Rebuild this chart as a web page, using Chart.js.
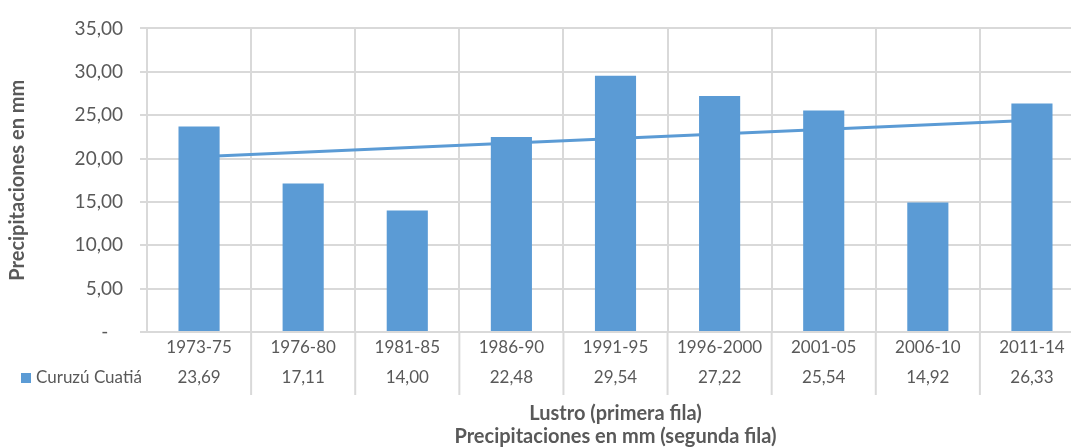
<!DOCTYPE html>
<html>
<head>
<meta charset="utf-8">
<script src="https://cdn.jsdelivr.net/npm/chart.js@4"></script>
<style>
  html, body { margin: 0; padding: 0; background: #fff; overflow: hidden; }
</style>
</head>
<body>
<canvas id="chart-precip" width="1090" height="448"></canvas>
<script>
// data
const lustros = ['1973-75', '1976-80', '1981-85', '1986-90', '1991-95', '1996-2000', '2001-05', '2006-10', '2011-14'];
const precipCuruzu = [23.69, 17.11, 14.00, 22.48, 29.54, 27.22, 25.54, 14.92, 26.33];
// linear trend line, ends
const trendCuruzu = [20.2, null, null, null, null, null, null, null, 24.4];
const yTicks = [0, 5, 10, 15, 20, 25, 30, 35];

const seriesName = 'Curuzú Cuatiá';
const blue = '#5B9BD5';
const grey = '#595959';
const gridGrey = '#d9d9d9';

function fmt(v) {
  return v.toFixed(2).replace('.', ',');
}

// extra vertical dividers + legend key of the data table under the axis
let tablePlugin = {
  id: 'dataTable',
  afterDraw(chart) {
    let ctx = chart.ctx;
    let x = chart.scales.x;
    let area = chart.chartArea;
    ctx.save();
    ctx.strokeStyle = gridGrey;
    ctx.lineWidth = 2;
    for (let i = 1; i <= lustros.length; i++) {
      let px = i < lustros.length
        ? (x.getPixelForTick(i - 1) + x.getPixelForTick(i)) / 2
        : area.right;
      ctx.beginPath();
      ctx.moveTo(px, area.bottom);
      ctx.lineTo(px, area.bottom + 63);
      ctx.stroke();
    }
    let rowY = area.bottom + 46;
    ctx.fillStyle = blue;
    ctx.fillRect(21, rowY - 5, 10, 10);
    ctx.fillStyle = grey;
    ctx.font = '17px Lato';
    ctx.textBaseline = 'middle';
    ctx.textAlign = 'left';
    ctx.fillText(seriesName, 36, rowY);
    ctx.restore();
  }
};

new Chart(document.getElementById('chart-precip'), {
  type: 'bar',
  data: {
    labels: lustros.map((l, i) => [l, fmt(precipCuruzu[i])]),
    datasets: [
      {
        label: seriesName,
        data: precipCuruzu,
        backgroundColor: blue,
        barPercentage: 0.395,
        categoryPercentage: 1,
        order: 1
      },
      {
        type: 'line',
        label: 'Lineal (' + seriesName + ')',
        data: trendCuruzu,
        borderColor: blue,
        borderWidth: 3,
        pointRadius: 0,
        spanGaps: true,
        tension: 0,
        order: 2
      }
    ]
  },
  options: {
    responsive: false,
    animation: false,
    layout: { padding: { top: 26, right: 6, bottom: 0, left: 0 } },
    plugins: {
      legend: { display: false },
      tooltip: { enabled: false }
    },
    scales: {
      x: {
        offset: true,
        grid: { color: gridGrey, lineWidth: 2, offset: true, drawTicks: false },
        border: { color: gridGrey, width: 2 },
        ticks: {
          color: grey,
          font: { family: 'Lato', size: 17, lineHeight: 1.76 },
          padding: 1,
          maxRotation: 0,
          autoSkip: false
        },
        title: {
          display: true,
          text: ['Lustro (primera fila)', 'Precipitaciones en mm (segunda fila)'],
          color: grey,
          font: { family: 'Lato', size: 20, weight: 'bold', lineHeight: 1.15 },
          padding: { top: 0, bottom: 0 }
        },
        afterFit(s) { s.height = 116; }
      },
      y: {
        min: 0,
        max: 35,
        afterBuildTicks(s) { s.ticks = yTicks.map(v => ({ value: v })); },
        grid: { color: gridGrey, lineWidth: 2, tickLength: 7 },
        border: { color: gridGrey, width: 2 },
        ticks: {
          color: grey,
          font: { family: 'Lato', size: 19 },
          padding: 17,
          callback: v => v === 0 ? '-   ' : fmt(v)
        },
        title: {
          display: true,
          text: 'Precipitaciones en mm',
          color: grey,
          font: { family: 'Lato', size: 20, weight: 'bold' },
          padding: { top: 6, bottom: 0 }
        },
        afterFit(s) { s.width = 147; }
      }
    }
  },
  plugins: [tablePlugin]
});
</script>
</body>
</html>
